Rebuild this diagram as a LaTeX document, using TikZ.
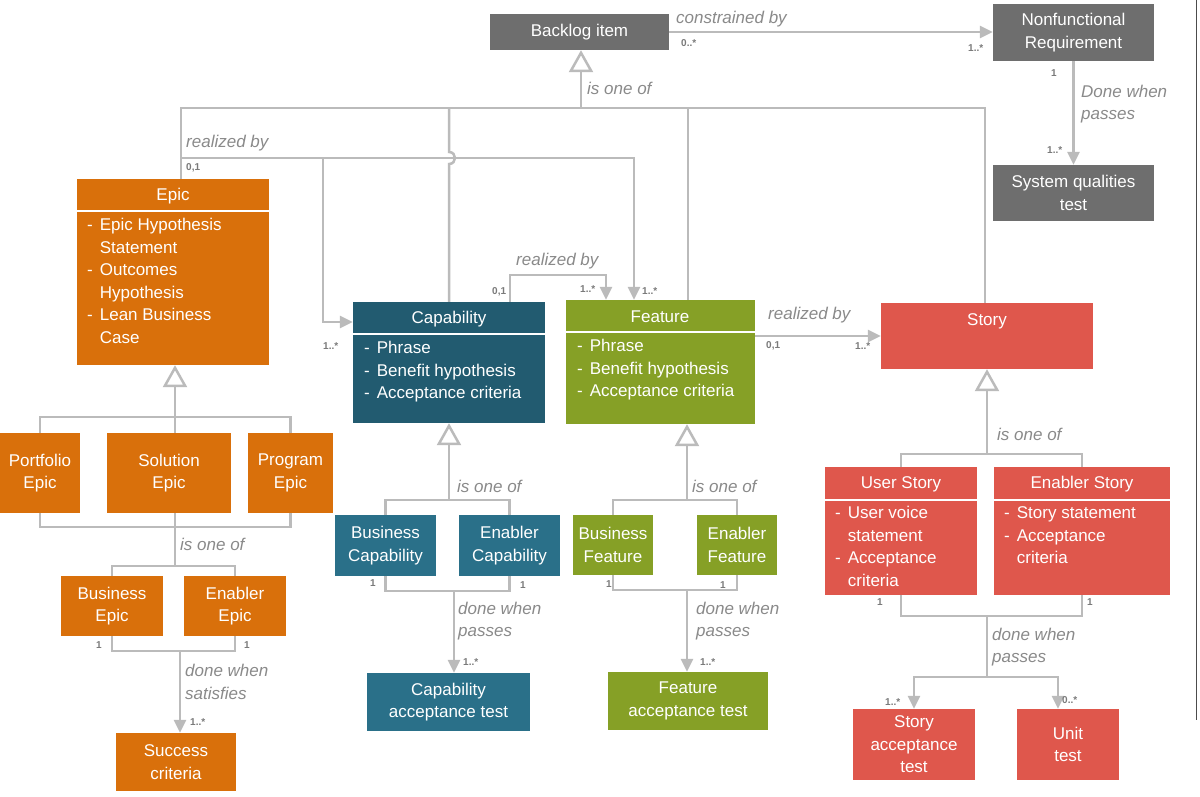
\documentclass[tikz,border=0pt]{standalone}
\usepackage{fontspec}
\setmainfont{Liberation Sans}
\usetikzlibrary{arrows.meta,calc}
\definecolor{cgray}{HTML}{6E6E6E}
\definecolor{corange}{HTML}{D9700B}
\definecolor{cteal}{HTML}{225B70}
\definecolor{cteal2}{HTML}{2A7089}
\definecolor{cgreen}{HTML}{86A026}
\definecolor{cred}{HTML}{DF574C}
\definecolor{lc}{HTML}{BBBBBB}
\definecolor{labc}{HTML}{8A8A8A}
\definecolor{mulc}{HTML}{7A7A7A}
\tikzset{
 box/.style={draw=none,inner sep=0,text=white,align=center,font=\fontsize{17}{22.5}\selectfont},
 ln/.style={draw=lc,line width=2.5pt},
 arr/.style={ln,-{Triangle[length=13pt,width=12pt]}},
 gen/.style={ln,-{Triangle[open,length=22pt,width=24pt,fill=white]}},
 lab/.style={text=labc,font=\fontsize{17}{22.5}\selectfont\itshape,inner sep=0,anchor=west,align=left},
 mul/.style={text=mulc,font=\fontsize{10}{11}\selectfont\bfseries,inner sep=0,anchor=west},
 ttl/.style={text=white,font=\fontsize{17}{22.5}\selectfont,inner sep=0},
 lst/.style={text=white,font=\fontsize{17}{22.5}\selectfont,inner sep=0,anchor=north west},
 sep/.style={draw=white,line width=2pt}
}
\newcommand\bx[7]{\node[box,fill=#6,minimum width={(#4-#2)*1pt},minimum height={(#5-#3)*1pt}] (#1) at ({(#2+#4)/2},{(#3+#5)/2}) {#7};}
\begin{document}
\begin{tikzpicture}[x=1pt,y=-1pt]
\useasboundingbox[fill=white] (0,0) rectangle (1200,796);
\draw[black!70,line width=1pt] (1196,0) -- (1196,720);
% boxes
\bx{bl}{490}{14}{669}{50}{cgray}{Backlog item}
\bx{nfr}{993}{4}{1154}{61}{cgray}{Nonfunctional\\Requirement}
\bx{sqt}{993}{165}{1154}{221}{cgray}{System qualities\\test}
\bx{epic}{77}{179}{269}{365}{corange}{}
\bx{pepic}{0}{433}{80}{513}{corange}{Portfolio\\Epic}
\bx{sepic}{107}{433}{231}{513}{corange}{Solution\\Epic}
\bx{prepic}{248}{433}{333}{513}{corange}{Program\\Epic}
\bx{bepic}{61}{576}{163}{636}{corange}{Business\\Epic}
\bx{eepic}{184}{576}{286}{636}{corange}{Enabler\\Epic}
\bx{succ}{116}{733}{236}{791}{corange}{Success\\criteria}
\bx{cap}{353}{302}{545}{423}{cteal}{}
\bx{bcap}{335}{515}{436}{576}{cteal2}{Business\\Capability}
\bx{ecap}{459}{515}{560}{576}{cteal2}{Enabler\\Capability}
\bx{capt}{367}{673}{530}{731}{cteal2}{Capability\\acceptance test}
\bx{feat}{566}{300}{755}{424}{cgreen}{}
\bx{bfeat}{573}{515}{653}{575}{cgreen}{Business\\Feature}
\bx{efeat}{697}{515}{777}{575}{cgreen}{Enabler\\Feature}
\bx{featt}{608}{672}{768}{730}{cgreen}{Feature\\acceptance test}
\bx{story}{881}{303}{1093}{369}{cred}{}
\node[ttl] at (987,321) {Story};
\bx{ustory}{825}{467}{977}{595}{cred}{}
\bx{estory}{994}{467}{1170}{595}{cred}{}
\bx{sat}{853}{709}{975}{780}{cred}{Story\\acceptance\\test}
\bx{unit}{1017}{709}{1119}{780}{cred}{Unit\\test}
% compartments
\node[ttl] at (173,196) {Epic};
\draw[sep] (77,211) -- (269,211);
\node[lst] at (87,215) {\begin{tabular}{@{}l@{\hspace{7pt}}l@{}}-&Epic Hypothesis\\&Statement\\-&Outcomes\\&Hypothesis\\-&Lean Business\\&Case\end{tabular}};
\node[ttl] at (449,319) {Capability};
\draw[sep] (353,334) -- (545,334);
\node[lst] at (364,338) {\begin{tabular}{@{}l@{\hspace{7pt}}l@{}}-&Phrase\\-&Benefit hypothesis\\-&Acceptance criteria\end{tabular}};
\node[ttl] at (660,317) {Feature};
\draw[sep] (566,332) -- (755,332);
\node[lst] at (577,336) {\begin{tabular}{@{}l@{\hspace{7pt}}l@{}}-&Phrase\\-&Benefit hypothesis\\-&Acceptance criteria\end{tabular}};
\node[ttl] at (901,484) {User Story};
\draw[sep] (825,500) -- (977,500);
\node[lst] at (835,503) {\begin{tabular}{@{}l@{\hspace{7pt}}l@{}}-&User voice\\&statement\\-&Acceptance\\&criteria\end{tabular}};
\node[ttl] at (1082,484) {Enabler Story};
\draw[sep] (994,500) -- (1170,500);
\node[lst] at (1004,503) {\begin{tabular}{@{}l@{\hspace{7pt}}l@{}}-&Story statement\\-&Acceptance\\&criteria\end{tabular}};
% backlog relations
\draw[arr] (bl.east) -- (nfr.west |- bl.east);
\node[lab] at (676,19) {constrained by};
\node[mul] at (681,43) {0..*};
\node[mul] at (968,48) {1..*};
\draw[arr] (nfr.south) -- (sqt.north);
\node[mul] at (1051,73) {1};
\node[lab] at (1081,104) {Done when\\passes};
\node[mul] at (1047,150) {1..*};
% backlog generalization
\coordinate (jb) at (581,108);
\draw[gen] (jb) -- (bl.south -| jb);
\draw[ln] (jb) -| ([xshift=8pt]epic.north);
\draw[ln] (jb) -| ([xshift=-2pt]story.north);
\draw[ln] (jb -| feat.north) ++(27.5,0) -- ([xshift=27.5pt]feat.north);
\draw[ln] (449,108) -- (449,152) .. controls (457,152) and (457,164) .. (449,164) -- (cap.north);
\node[lab] at (587,88) {is one of};
% realized by from epic
\draw[arr] (181,158) -| ([xshift=-26.5pt]feat.north);
\draw[arr] (323,158) |- ([yshift=40.5pt]cap.west);
\node[lab] at (186,143) {realized by};
\node[mul] at (186,168) {0,1};
\node[mul] at (323,346) {1..*};
\node[mul] at (642,291) {1..*};
% cap -> feature
\draw[arr] ([xshift=61pt]cap.north) -- ++(0,-27) -| ([xshift=-54.5pt]feat.north);
\node[lab] at (516,261) {realized by};
\node[mul] at (492,292) {0,1};
\node[mul] at (580,289) {1..*};
% feature -> story
\draw[arr] (feat.east |- story.west) -- (story.west);
\node[lab] at (768,315) {realized by};
\node[mul] at (766,346) {0,1};
\node[mul] at (855,346) {1..*};
% epic tree
\coordinate (je) at (175,417);
\draw[gen] (je) -- (je |- epic.south);
\draw[ln] (pepic.north) |- (je) -| (prepic.north);
\draw[ln] (je) -- (je |- sepic.north);
\coordinate (je2) at (175,527);
\draw[ln] (pepic.south) |- (je2) -| (prepic.south);
\coordinate (je3) at (175,566);
\draw[ln] (je |- sepic.south) -- (je3);
\draw[ln] (bepic.north) |- (je3) -| (eepic.north);
\node[lab] at (180,544) {is one of};
\coordinate (jed) at (180,651);
\draw[ln] (bepic.south) |- (jed) -| (eepic.south);
\draw[arr] (jed) -- (jed |- succ.north);
\node[mul] at (96,645) {1};
\node[mul] at (244,645) {1};
\node[lab] at (185,682) {done when\\satisfies};
\node[mul] at (190,722) {1..*};
% capability tree
\coordinate (jc) at (449,500);
\draw[gen] (jc) -- (cap.south);
\draw[ln] (bcap.north) |- (jc) -| (ecap.north);
\coordinate (jcd) at (454,591);
\draw[ln] (bcap.south) |- (jcd) -| (ecap.south);
\draw[arr] (jcd) -- (jcd |- capt.north);
\node[lab] at (457,486) {is one of};
\node[mul] at (370,583) {1};
\node[mul] at (520,585) {1};
\node[lab] at (458,621) {done when\\passes};
\node[mul] at (463,662) {1..*};
% feature tree
\coordinate (jf) at (687,500);
\draw[gen] (jf) -- (jf |- feat.south);
\draw[ln] (bfeat.north) |- (jf) -| (efeat.north);
\coordinate (jfd) at (687,590);
\draw[ln] (bfeat.south) |- (jfd) -| (efeat.south);
\draw[arr] (jfd) -- (jfd |- featt.north);
\node[lab] at (692,486) {is one of};
\node[mul] at (606,584) {1};
\node[mul] at (720,585) {1};
\node[lab] at (696,621) {done when\\passes};
\node[mul] at (700,662) {1..*};
% story tree
\coordinate (js) at (987,454);
\draw[gen] (js) -- (story.south);
\draw[ln] (ustory.north) |- (js) -| (estory.north);
\coordinate (js2) at (987,616);
\draw[ln] (ustory.south) |- (js2) -| (estory.south);
\coordinate (js3) at (987,677);
\draw[ln] (js2) -- (js3);
\draw[arr] (js3) -| (sat.north);
\draw[arr] (js3) -| ([xshift=-10pt]unit.north);
\node[lab] at (997,434) {is one of};
\node[mul] at (877,602) {1};
\node[mul] at (1087,602) {1};
\node[lab] at (992,647) {done when\\passes};
\node[mul] at (885,702) {1..*};
\node[mul] at (1062,700) {0..*};
\end{tikzpicture}
\end{document}
